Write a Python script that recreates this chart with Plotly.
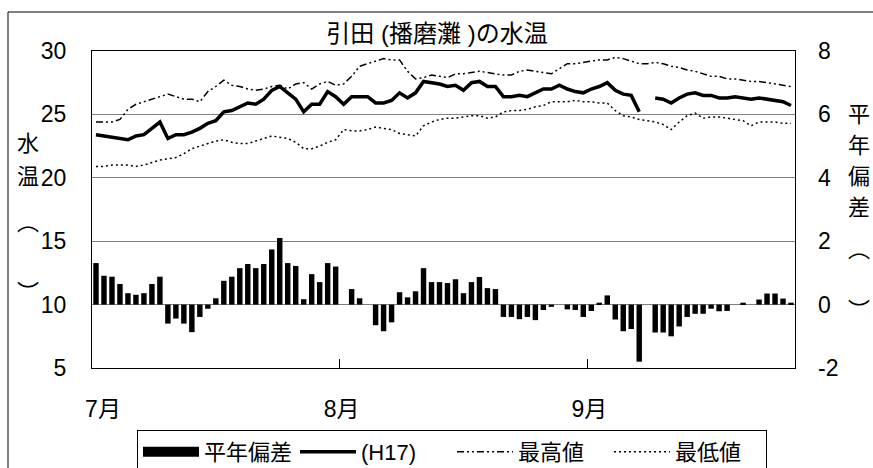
import pandas as pd
import plotly.graph_objects as go

# ---- data ----
dates = pd.date_range("2005-07-01", "2005-09-26", freq="D")

h17 = [23.4, 23.3, 23.2, 23.1, 23.0, 23.3, 23.4, 23.9, 24.4, 23.1,
       23.4, 23.4, 23.6, 23.9, 24.3, 24.5, 25.2, 25.3, 25.6, 25.9,
       25.8, 26.2, 26.9, 27.2, 26.7, 26.2, 25.2, 25.8, 25.8, 26.8,
       26.4, 25.8, 26.4, 26.4, 26.4, 25.9, 25.9, 26.1, 26.7, 26.3,
       26.7, 27.6, 27.5, 27.4, 27.2, 27.3, 26.9, 27.5, 27.6, 27.2,
       27.2, 26.4, 26.4, 26.5, 26.4, 26.7, 27.0, 27.0, 27.3, 27.0,
       26.8, 26.7, 27.0, 27.2, 27.5, 26.9, 26.6, 26.5, 25.2, None,
       26.3, 26.2, 25.9, 26.3, 26.6, 26.7, 26.5, 26.5, 26.3, 26.3,
       26.4, 26.3, 26.2, 26.3, 26.2, 26.1, 26.0, 25.7]

max_vals = [24.4, 24.4, 24.4, 24.6, 25.4, 25.8, 26.0, 26.2, 26.4, 26.6,
            26.4, 26.2, 26.2, 26.0, 26.8, 27.2, 27.7, 27.3, 27.2, 27.0,
            26.9, 27.0, 27.2, 27.3, 27.0, 27.4, 27.5, 27.0, 27.4, 27.6,
            27.3, 27.4, 28.0, 28.8, 29.0, 29.2, 29.4, 29.3, 29.3, 28.4,
            27.8, 27.9, 28.1, 28.0, 27.9, 28.2, 28.2, 28.3, 28.4, 28.3,
            28.2, 28.1, 28.1, 28.4, 28.5, 28.4, 28.3, 28.2, 28.6, 29.0,
            29.0, 29.1, 29.2, 29.3, 29.3, 29.5, 29.4, 29.2, 29.0, 29.0,
            29.1, 29.0, 28.8, 28.7, 28.5, 28.4, 28.2, 28.0, 28.0, 27.8,
            27.8, 27.7, 27.6, 27.6, 27.5, 27.4, 27.3, 27.2]

min_vals = [20.9, 20.9, 21.0, 21.0, 21.0, 20.9, 21.0, 21.2, 21.4, 21.5,
            21.6, 21.9, 22.3, 22.5, 22.7, 22.9, 23.0, 22.8, 22.7, 22.7,
            22.9, 23.1, 23.3, 23.2, 23.1, 22.8, 22.3, 22.3, 22.5, 22.8,
            23.0, 23.8, 23.7, 23.7, 23.8, 24.0, 23.9, 23.8, 23.5, 23.4,
            23.3, 24.1, 24.4, 24.6, 24.7, 24.7, 24.8, 24.9, 24.9, 24.7,
            24.8, 25.2, 25.3, 25.3, 25.4, 25.6, 25.7, 26.0, 26.0, 26.0,
            26.1, 26.0, 26.0, 25.9, 25.9, 25.3, 24.9, 24.8, 24.6, 24.5,
            24.4, 24.2, 23.8, 24.4, 24.9, 25.1, 24.7, 24.8, 24.8, 24.7,
            24.6, 24.5, 24.1, 24.4, 24.4, 24.4, 24.3, 24.3]

anomaly = [1.31, 0.91, 0.88, 0.65, 0.36, 0.31, 0.36, 0.65, 0.88, -0.60,
           -0.44, -0.60, -0.87, -0.39, -0.13, 0.20, 0.75, 0.88, 1.15, 1.28,
           1.15, 1.28, 1.74, 2.10, 1.31, 1.22, 0.17, 0.96, 0.71, 1.31,
           1.20, 0.0, 0.49, 0.20, 0.0, -0.65, -0.84, -0.56, 0.39, 0.23,
           0.42, 1.15, 0.71, 0.71, 0.68, 0.80, 0.36, 0.71, 0.87, 0.52,
           0.49, -0.39, -0.39, -0.46, -0.39, -0.49, -0.17, -0.07, 0.0, -0.15,
           -0.17, -0.39, -0.20, 0.06, 0.29, -0.47, -0.84, -0.77, -1.80, None,
           -0.88, -0.88, -1.00, -0.69, -0.39, -0.29, -0.29, -0.13, -0.21, -0.20,
           0.0, 0.06, 0.0, 0.16, 0.35, 0.35, 0.19, 0.06]

month_labels = ["7月", "8月", "9月"]
month_label_pos = ["2005-07-01 21:00", "2005-07-31 18:00", "2005-08-31 18:00"]
month_bounds = ["2005-07-31 12:00", "2005-08-31 12:00"]

left_ticks = [5, 10, 15, 20, 25, 30]
right_ticks = [-2, 0, 2, 4, 6, 8]
right_tick_labels = ["-2", "0", "2", "4", "6", "8"]

title_text = "引田 (播磨灘 )の水温"
left_title_chars = ["水", "温", "︵", "︶"]
right_title_chars = ["平", "年", "偏", "差", "︵", "︶"]

# ---- figure ----
FONT = "'Liberation Sans', Arial, 'Noto Sans CJK JP', sans-serif"
DAY_MS = 86400000

W, H = 873, 468
L, R, T, B = 92, 795, 51, 368  # plot area in pixels


def px_x(px):
    return (px - L) / (R - L)


def px_y(py):
    return (B - py) / (B - T)


fig = go.Figure()

fig.add_trace(go.Bar(
    x=dates, y=anomaly, yaxis="y2", name="平年偏差",
    marker=dict(color="black", line=dict(width=0)),
    width=0.68 * DAY_MS, showlegend=False,
))
# legend swatch for the bars (wide black block like the original)
fig.add_trace(go.Scatter(
    x=[None], y=[None], mode="lines", name="平年偏差",
    line=dict(color="black", width=13), legendrank=1,
))
fig.add_trace(go.Scatter(
    x=dates, y=h17, mode="lines", name="(H17)",
    line=dict(color="black", width=3.5), connectgaps=False, legendrank=2,
))
fig.add_trace(go.Scatter(
    x=dates, y=max_vals, mode="lines", name="最高値",
    line=dict(color="black", width=1.5, dash="7px,3px,2px,3px,2px,3px"),
    legendrank=3,
))
fig.add_trace(go.Scatter(
    x=dates, y=min_vals, mode="lines", name="最低値",
    line=dict(color="black", width=1.5, dash="2px,3px"),
    legendrank=4,
))

annotations = []
for ch, py in zip(left_title_chars, [143, 176, 222, 292]):
    annotations.append(dict(text=ch, x=px_x(28), y=px_y(py), xref="paper", yref="paper",
                            showarrow=False, xanchor="center", yanchor="middle",
                            font=dict(size=22, color="black", family=FONT)))
for ch, py in zip(right_title_chars, [114, 145, 176, 207, 249, 310]):
    annotations.append(dict(text=ch, x=px_x(859), y=px_y(py), xref="paper", yref="paper",
                            showarrow=False, xanchor="center", yanchor="middle",
                            font=dict(size=22, color="black", family=FONT)))

fig.update_layout(
    width=W, height=H,
    margin=dict(l=L, r=W - R, t=T, b=H - B, pad=0, autoexpand=False),
    paper_bgcolor="white", plot_bgcolor="white",
    font=dict(family=FONT, size=23, color="black"),
    title=dict(text=title_text, x=px_x(437), xref="paper", xanchor="center",
               y=1 - 34 / H, yref="container", yanchor="middle",
               font=dict(size=24, color="black", family=FONT)),
    showlegend=True,
    legend=dict(orientation="h", x=px_x(137), y=px_y(430), xanchor="left", yanchor="top",
                bordercolor="black", borderwidth=1, bgcolor="white",
                font=dict(size=22, family=FONT, color="black"),
                entrywidth=86, entrywidthmode="pixels",
                traceorder="normal", itemwidth=56),
    xaxis=dict(
        type="date",
        range=["2005-06-30 12:00", "2005-09-26 12:00"],
        tickmode="array", tickvals=month_label_pos, ticktext=month_labels,
        ticks="", ticklabelstandoff=20,
        minor=dict(tickmode="array", tickvals=month_bounds, ticks="inside",
                   ticklen=9, tickcolor="black", tickwidth=1, showgrid=False),
        showgrid=False, zeroline=False,
        showline=True, linecolor="black", linewidth=1, mirror=True,
        tickfont=dict(size=23, family=FONT, color="black"),
    ),
    yaxis=dict(
        range=[5, 30], tickmode="array", tickvals=left_ticks,
        showgrid=True, gridcolor="#808080", gridwidth=1, zeroline=False,
        showline=True, linecolor="black", linewidth=1, mirror=True,
        ticks="", ticklabelstandoff=20,
        tickfont=dict(size=23, family=FONT, color="black"),
    ),
    yaxis2=dict(
        range=[-2, 8], tickmode="array", tickvals=right_ticks, ticktext=right_tick_labels,
        overlaying="y", side="right", showgrid=False, zeroline=False,
        showline=False, ticks="", ticklabelstandoff=22,
        tickfont=dict(size=23, family=FONT, color="black"),
    ),
    annotations=annotations,
    shapes=[dict(type="rect", xref="paper", yref="paper",
                 x0=px_x(8), x1=px_x(900), y0=px_y(520), y1=px_y(12),
                 line=dict(color="black", width=1), fillcolor="rgba(0,0,0,0)",
                 layer="below")],
)

fig.write_html(
    "out.html",
    config={"displayModeBar": False},
    post_script="document.body.style.margin='0';document.body.style.overflow='hidden';",
)
